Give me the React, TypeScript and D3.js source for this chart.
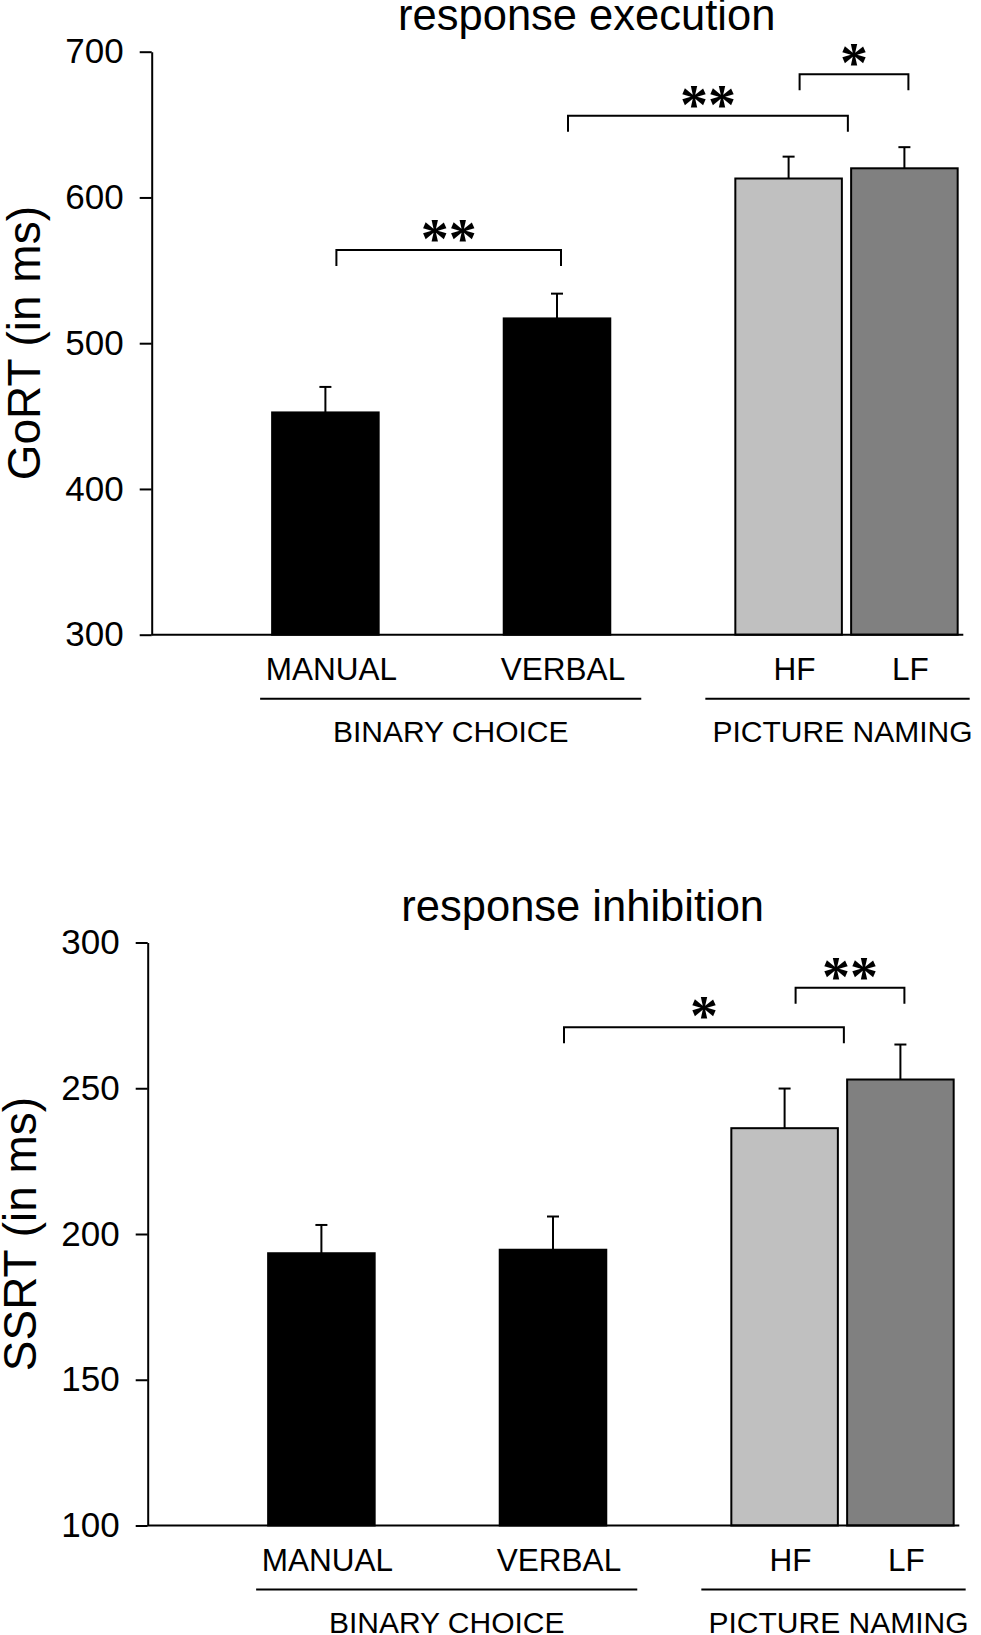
import React, { useEffect, useRef } from "react";
import * as d3 from "d3";

// categories and the empty slots between them (bar positions on the x axis)
const categories = ["MANUAL", "VERBAL", "HF", "LF"];
const slotDomain = ["pad", "MANUAL", "gap1", "VERBAL", "gap2", "HF", "LF"];
const barColors = ["#000000", "#000000", "#c0c0c0", "#808080"];
const groups = [
  { label: "BINARY CHOICE", members: ["MANUAL", "VERBAL"] },
  { label: "PICTURE NAMING", members: ["HF", "LF"] },
];

// response execution (GoRT)
const execMeans = [452.5, 517, 613, 620];
const execSE = [17.5, 17, 15, 14.5];
const execTicks = [300, 400, 500, 600, 700];
const execBrackets = [
  { from: "MANUAL", to: "VERBAL", level: 564, stars: "**" },
  { from: "VERBAL", to: "HF", level: 656, stars: "**" },
  { from: "HF", to: "LF", level: 684.5, stars: "*" },
];

// response inhibition (SSRT)
const inhibMeans = [193.4, 194.6, 236.3, 253];
const inhibSE = [9.7, 11.4, 13.6, 12];
const inhibTicks = [100, 150, 200, 250, 300];
const inhibBrackets = [
  { from: "VERBAL", to: "HF", level: 270.9, stars: "*" },
  { from: "HF", to: "LF", level: 284.5, stars: "**" },
];

const FONT = "'Liberation Sans', Arial, sans-serif";
const PLOT_W = 810.6;
const PLOT_H = 583;

interface Bracket {
  from: string;
  to: string;
  level: number;
  stars: string;
}

interface PanelOpts {
  title: string;
  yLabel: string;
  ticks: number[];
  means: number[];
  se: number[];
  brackets: Bracket[];
  left: number;
  top: number;
}

const groupOf = (c: string) => groups.findIndex((g) => g.members.includes(c));

function drawPanel(
  root: d3.Selection<SVGSVGElement, unknown, null, undefined>,
  o: PanelOpts
) {
  const g = root.append("g").attr("transform", `translate(${o.left},${o.top})`);

  const x = d3
    .scaleBand<string>()
    .domain(slotDomain)
    .range([0, PLOT_W])
    .paddingInner(0.08)
    .paddingOuter(0.04);
  const bw = x.bandwidth();
  const cx = (c: string) => (x(c) as number) + bw / 2;

  const y = d3
    .scaleLinear()
    .domain(d3.extent(o.ticks) as [number, number])
    .range([PLOT_H, 0]);
  const yMin = o.ticks[0];

  // title
  g.append("text")
    .attr("x", 435)
    .attr("y", -21.7)
    .attr("text-anchor", "middle")
    .style("font-family", FONT)
    .style("font-size", "43.5px")
    .text(o.title);

  // bars
  g.selectAll("rect.bar")
    .data(categories)
    .join("rect")
    .attr("class", "bar")
    .attr("x", (d) => x(d) as number)
    .attr("y", (d, i) => y(o.means[i]))
    .attr("width", bw)
    .attr("height", (d, i) => y(yMin) - y(o.means[i]))
    .attr("fill", (d, i) => barColors[i])
    .attr("stroke", "#000")
    .attr("stroke-width", 2);

  // error bars (upper only)
  const err = g.append("g").attr("stroke", "#000").attr("stroke-width", 2);
  categories.forEach((c, i) => {
    const top = y(o.means[i] + o.se[i]);
    err.append("line")
      .attr("x1", cx(c)).attr("x2", cx(c))
      .attr("y1", y(o.means[i])).attr("y2", top);
    err.append("line")
      .attr("x1", cx(c) - 6).attr("x2", cx(c) + 6)
      .attr("y1", top).attr("y2", top);
  });

  // y axis
  const ax = g
    .append("g")
    .call(
      d3.axisLeft(y).tickValues(o.ticks).tickSize(12).tickSizeOuter(0).tickPadding(16)
    );
  ax.select(".domain").attr("stroke", "#000").attr("stroke-width", 2);
  ax.selectAll(".tick line").attr("stroke", "#000").attr("stroke-width", 2);
  ax.selectAll(".tick text")
    .attr("fill", "#000")
    .style("font-family", FONT)
    .style("font-size", "35px");

  // baseline
  g.append("line")
    .attr("x1", 0)
    .attr("x2", PLOT_W + 1)
    .attr("y1", y(yMin))
    .attr("y2", y(yMin))
    .attr("stroke", "#000")
    .attr("stroke-width", 2);

  // y label
  g.append("text")
    .attr("transform", `translate(-112,${PLOT_H / 2}) rotate(-90)`)
    .attr("text-anchor", "middle")
    .style("font-family", FONT)
    .style("font-size", "46px")
    .text(o.yLabel);

  // category labels
  g.selectAll("text.cat")
    .data(categories)
    .join("text")
    .attr("class", "cat")
    .attr("x", (d) => cx(d) + 6)
    .attr("y", PLOT_H + 45.6)
    .attr("text-anchor", "middle")
    .style("font-family", FONT)
    .style("font-size", "31.5px")
    .text((d) => d);

  // group underlines and labels
  groups.forEach((grp, gi) => {
    const first = grp.members[0];
    const last = grp.members[grp.members.length - 1];
    const x1 = (x(first) as number) - (gi === 0 ? 12 : 30);
    const x2 = (x(last) as number) + bw + (gi === 0 ? 31 : 12);
    g.append("line")
      .attr("x1", x1).attr("x2", x2)
      .attr("y1", PLOT_H + 64).attr("y2", PLOT_H + 64)
      .attr("stroke", "#000")
      .attr("stroke-width", 2);
    g.append("text")
      .attr("x", (x1 + x2) / 2 + (gi === 0 ? 0 : 5))
      .attr("y", PLOT_H + 107)
      .attr("text-anchor", "middle")
      .style("font-family", FONT)
      .style("font-size", "30px")
      .text(grp.label);
  });

  // significance brackets
  o.brackets.forEach((b) => {
    const by = y(b.level);
    const x1 = cx(b.from) + 11;
    const x2 =
      groupOf(b.from) !== groupOf(b.to)
        ? (x(b.to) as number) + bw + 6
        : cx(b.to) + 4;
    g.append("path")
      .attr("d", `M${x1},${by + 16}V${by}H${x2}V${by + 16}`)
      .attr("fill", "none")
      .attr("stroke", "#000")
      .attr("stroke-width", 2);
    g.append("text")
      .attr("x", (x1 + x2) / 2)
      .attr("y", by + 8)
      .attr("text-anchor", "middle")
      .style("font-family", "'Liberation Serif', 'Times New Roman', serif")
      .style("font-weight", "bold")
      .style("font-size", "56px")
      .text(b.stars);
  });
}

const App: React.FC = () => {
  const ref = useRef<SVGSVGElement | null>(null);

  useEffect(() => {
    if (!ref.current) return;
    const svg = d3.select(ref.current);
    svg.selectAll("*").remove();
    drawPanel(svg, {
      title: "response execution",
      yLabel: "GoRT (in ms)",
      ticks: execTicks,
      means: execMeans,
      se: execSE,
      brackets: execBrackets,
      left: 151.7,
      top: 51.7,
    });
    drawPanel(svg, {
      title: "response inhibition",
      yLabel: "SSRT (in ms)",
      ticks: inhibTicks,
      means: inhibMeans,
      se: inhibSE,
      brackets: inhibBrackets,
      left: 147.7,
      top: 942.5,
    });
  }, []);

  return (
    <svg
      ref={ref}
      width={981}
      height={1635}
      style={{ position: "absolute", left: 0, top: 0, background: "#fff" }}
    />
  );
};

export default App;
